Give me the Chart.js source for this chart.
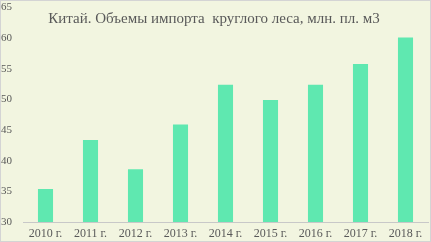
<!DOCTYPE html>
<html>
<head>
<meta charset="utf-8">
<script src="https://cdn.jsdelivr.net/npm/chart.js@4/dist/chart.umd.min.js"></script>
<style>
    html, body { margin: 0; padding: 0; background: #ffffff; }
    .wrap {
        width: 431px;
        height: 242px;
        box-sizing: border-box;
        border: 1px solid #d4d4d4;
        background: #f2f5e0;
    }
    canvas { display: block; }
</style>
</head>
<body>
<div class="wrap"><canvas id="chart" width="429" height="240"></canvas></div>
<script>
// Данные графика
const years = ['2010 г.', '2011 г.', '2012 г.', '2013 г.', '2014 г.', '2015 г.', '2016 г.', '2017 г.', '2018 г.'];
const importVolumes = [35.4, 43.4, 38.6, 45.9, 52.4, 49.9, 52.4, 55.8, 60.1];
const yMin = 30;
const yMax = 65;
const yStep = 5;
const chartTitle = 'Китай. Объемы импорта  круглого леса, млн. пл. м3';

const fontFamily = '"Liberation Serif", "DejaVu Serif", serif';

// Заголовок рисуется поверх области графика
const titlePlugin = {
    id: 'overlayTitle',
    afterDraw(chart) {
        const ctx = chart.ctx;
        ctx.save();
        ctx.font = '15px ' + fontFamily;
        ctx.fillStyle = '#595959';
        ctx.textAlign = 'center';
        ctx.textBaseline = 'middle';
        ctx.fillText(chartTitle, 213, 18);
        ctx.restore();
    }
};

new Chart(document.getElementById('chart'), {
    type: 'bar',
    data: {
        labels: years,
        datasets: [{
            data: importVolumes,
            backgroundColor: '#5fe8b0',
            borderWidth: 0,
            barPercentage: 0.67,
            categoryPercentage: 0.5
        }]
    },
    options: {
        responsive: false,
        animation: false,
        layout: { padding: { top: 0, right: 2, left: 0, bottom: 0 } },
        plugins: {
            legend: { display: false },
            tooltip: { enabled: false }
        },
        scales: {
            x: {
                grid: { display: false, drawTicks: false },
                border: { display: true, color: '#c8c8c8', width: 1 },
                ticks: {
                    color: '#595959',
                    font: { family: fontFamily, size: 12 },
                    padding: 5,
                    maxRotation: 0
                },
                afterFit(scale) { scale.height = 19; }
            },
            y: {
                min: yMin,
                max: yMax,
                grid: { display: false, drawTicks: false },
                border: { display: false },
                ticks: {
                    stepSize: yStep,
                    color: '#595959',
                    font: { family: fontFamily, size: 11 },
                    crossAlign: 'far',
                    padding: 0
                },
                afterFit(scale) { scale.width = 22; }
            }
        }
    },
    plugins: [titlePlugin]
});
</script>
</body>
</html>
